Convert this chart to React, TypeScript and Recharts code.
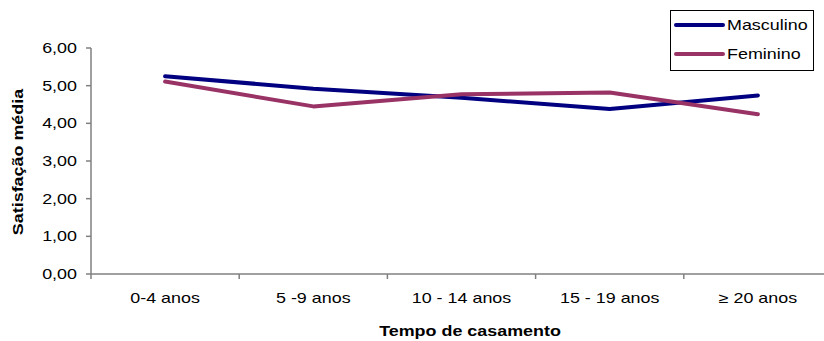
import React from 'react'
import { LineChart, Line, XAxis, YAxis } from 'recharts'

const categories = ['0-4 anos', '5 -9 anos', '10 - 14 anos', '15 - 19 anos', '≥ 20 anos']
const masculino = [5.25, 4.92, 4.68, 4.38, 4.74]
const feminino = [5.11, 4.45, 4.77, 4.82, 4.24]
const yTicks = [0, 1, 2, 3, 4, 5, 6]

const series = [
  { key: 'masculino', name: 'Masculino', color: '#000080' },
  { key: 'feminino', name: 'Feminino', color: '#993366' },
]

const rows = categories.map((cat, i) => ({
  cat,
  masculino: masculino[i],
  feminino: feminino[i],
}))

const CHART_W = 840
const CHART_H = 341
const MARGIN = { top: 48, right: 8, left: 0, bottom: 7 }
const Y_AXIS_W = 91
const X_AXIS_H = 60
const AXIS_Y = CHART_H - MARGIN.bottom - X_AXIS_H
const STEP = (CHART_W - MARGIN.right - Y_AXIS_W) / categories.length
const FONT = '"Liberation Sans", Arial, sans-serif'
const STRETCH = 1.28
const AXIS_COLOR = '#808080'
const LINE_W = 4

const fmt = (v: number) => v.toFixed(2).replace('.', ',')

// category labels centred in each band, tick marks on the band edges
const renderXTick = (props: any) => {
  const { x, payload, index } = props
  const left = x - STEP / 2
  return (
    <g>
      <line x1={left} y1={AXIS_Y} x2={left} y2={AXIS_Y + 5} stroke={AXIS_COLOR} strokeWidth={1.5} />
      {index === categories.length - 1 && (
        <line x1={x + STEP / 2} y1={AXIS_Y} x2={x + STEP / 2} y2={AXIS_Y + 5} stroke={AXIS_COLOR} strokeWidth={1.5} />
      )}
      <text
        transform={`translate(${x},${AXIS_Y + 29}) scale(${STRETCH},1)`}
        textAnchor="middle"
        fontSize={14}
        fontFamily={FONT}
        fill="#000"
      >
        {payload.value}
      </text>
    </g>
  )
}

const renderYTick = (props: any) => {
  const { y, payload } = props
  return (
    <text
      transform={`translate(${Y_AXIS_W - 14},${y + 5}) scale(${STRETCH},1)`}
      textAnchor="end"
      fontSize={14}
      fontFamily={FONT}
      fill="#000"
    >
      {fmt(payload.value)}
    </text>
  )
}

const renderYLabel = () => (
  <text
    transform={`translate(18,162) rotate(-90) scale(${STRETCH},1)`}
    textAnchor="middle"
    dominantBaseline="central"
    fontSize={14}
    fontWeight="bold"
    fontFamily={FONT}
    fill="#000"
  >
    Satisfação média
  </text>
)

const renderXLabel = () => (
  <text
    transform={`translate(470,336) scale(${STRETCH},1)`}
    textAnchor="middle"
    fontSize={14}
    fontWeight="bold"
    fontFamily={FONT}
    fill="#000"
  >
    Tempo de casamento
  </text>
)

export default function App() {
  return (
    <div
      style={{
        position: 'absolute',
        left: 0,
        top: 0,
        width: 824,
        height: 341,
        overflow: 'hidden',
        background: '#fff',
      }}
    >
      <LineChart width={CHART_W} height={CHART_H} data={rows} margin={MARGIN}>
        <XAxis
          dataKey="cat"
          scale="band"
          height={X_AXIS_H}
          interval={0}
          tickLine={false}
          axisLine={{ stroke: AXIS_COLOR, strokeWidth: 1.5 }}
          tick={renderXTick}
          label={{ content: renderXLabel }}
        />
        <YAxis
          width={Y_AXIS_W}
          domain={[0, 6]}
          ticks={yTicks}
          interval={0}
          tickSize={5}
          tickLine={{ stroke: AXIS_COLOR, strokeWidth: 1.5 }}
          axisLine={{ stroke: AXIS_COLOR, strokeWidth: 1.5 }}
          tick={renderYTick}
          label={{ content: renderYLabel }}
        />
        {series.map((s) => (
          <Line
            key={s.key}
            dataKey={s.key}
            name={s.name}
            stroke={s.color}
            strokeWidth={LINE_W}
            strokeLinecap="round"
            strokeLinejoin="round"
            dot={false}
            activeDot={false}
            isAnimationActive={false}
          />
        ))}
      </LineChart>

      {/* legend box, top right */}
      <svg
        width={144}
        height={61}
        style={{ position: 'absolute', left: 670, top: 10 }}
      >
        <rect x={0.5} y={0.5} width={143} height={60} fill="#fff" stroke="#000" strokeWidth={1} />
        {series.map((s, i) => {
          const cy = 15 + i * 29
          return (
            <g key={s.key}>
              <line x1={6} y1={cy} x2={53} y2={cy} stroke={s.color} strokeWidth={LINE_W} strokeLinecap="round" />
              <text
                transform={`translate(57,${cy + 5}) scale(${STRETCH},1)`}
                fontSize={14}
                fontFamily={FONT}
                fill="#000"
              >
                {s.name}
              </text>
            </g>
          )
        })}
      </svg>
    </div>
  )
}
